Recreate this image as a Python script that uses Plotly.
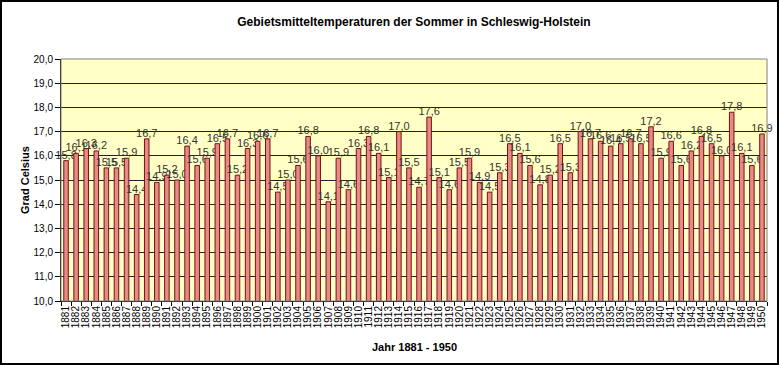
import plotly.graph_objects as go

years = [str(y) for y in range(1881, 1951)]
temps = [15.8, 16.1, 16.3, 16.2, 15.5, 15.5, 15.9, 14.4, 16.7, 14.9,
         15.2, 15.0, 16.4, 15.6, 15.9, 16.5, 16.7, 15.2, 16.3, 16.6,
         16.7, 14.5, 15.0, 15.6, 16.8, 16.0, 14.1, 15.9, 14.6, 16.3,
         16.8, 16.1, 15.1, 17.0, 15.5, 14.7, 17.6, 15.1, 14.6, 15.5,
         15.9, 14.9, 14.5, 15.3, 16.5, 16.1, 15.6, 14.8, 15.2, 16.5,
         15.3, 17.0, 16.7, 16.6, 16.4, 16.5, 16.7, 16.5, 17.2, 15.9,
         16.6, 15.6, 16.2, 16.8, 16.5, 16.0, 17.8, 16.1, 15.6, 16.9]

W, H = 779, 365
ml, mr, mt, mb = 61, 12, 59, 64
pw, ph = W - ml - mr, H - mt - mb

font = "Liberation Sans, Arial, sans-serif"

fig = go.Figure(go.Bar(
    x=years, y=temps,
    marker=dict(color="#E58A86", line=dict(color="#7A1010", width=1)),
    text=temps, texttemplate="%{y:.1f}", textposition="outside",
    textfont=dict(family=font, size=11, color="#333333"),
    constraintext="none", cliponaxis=False,
))

fig.update_layout(
    width=W, height=H,
    margin=dict(l=ml, r=mr, t=mt, b=mb),
    paper_bgcolor="white", plot_bgcolor="#FFFFC6",
    separators=",.",
    bargap=0.55,
    showlegend=False,
    font=dict(family=font, color="black"),
    title=dict(text="<b>Gebietsmitteltemperaturen der Sommer in Schleswig-Holstein</b>",
               x=0.5, xref="paper", y=1 - 22 / H, yanchor="middle",
               font=dict(size=12, family=font)),
    xaxis=dict(type="category", tickangle=-90, tickfont=dict(size=10),
               tickmode="linear", dtick=1, tick0=0,
               ticks="outside", tickson="boundaries", ticklen=4, tickcolor="black",
               showline=True, linecolor="black", linewidth=1,
               automargin=False, showgrid=False),
    yaxis=dict(range=[10, 20], dtick=1, tickformat=".1f", tickfont=dict(size=10),
               ticks="outside", ticklen=5, tickcolor="black",
               showline=True, linecolor="black", linewidth=1,
               gridcolor="#222222", gridwidth=1,
               automargin=False, zeroline=False),
    annotations=[
        dict(text="<b>Grad Celsius</b>", xref="paper", yref="paper",
             x=-(ml - 25) / pw, y=0.5, textangle=-90, showarrow=False,
             xanchor="center", yanchor="middle", font=dict(size=11)),
        dict(text="<b>Jahr 1881 - 1950</b>", xref="paper", yref="paper",
             x=0.5, y=-(347 - (H - mb)) / ph, showarrow=False,
             xanchor="center", yanchor="middle", font=dict(size=11)),
    ],
    shapes=[
        dict(type="rect", xref="paper", yref="paper", x0=0, x1=1, y0=0, y1=1,
             line=dict(color="#808080", width=1), layer="above"),
        dict(type="rect", xref="paper", yref="paper",
             x0=-(ml - 1) / pw, x1=1 + (mr - 1) / pw,
             y0=-(mb - 1) / ph, y1=1 + (mt - 1) / ph,
             line=dict(color="black", width=2)),
    ],
)

fig.write_html("out.html", config={"displayModeBar": False},
               post_script="document.body.style.margin='0';document.body.style.padding='0';")
